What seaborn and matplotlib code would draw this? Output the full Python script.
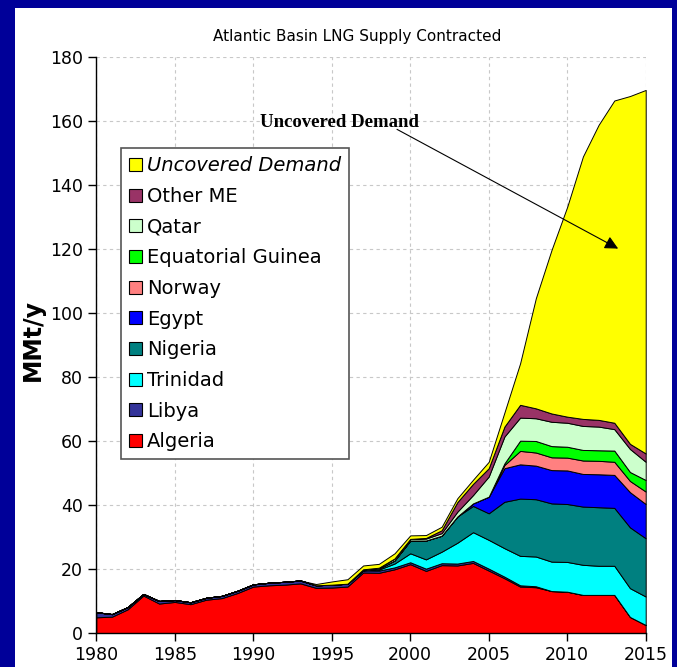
import numpy as np
import pandas as pd
import matplotlib
matplotlib.use("Agg")
import matplotlib.pyplot as plt
from matplotlib.patches import Rectangle, Patch
import seaborn as sns

years = list(range(1980, 2016))

algeria = [5.0, 5.2, 7.5, 11.8, 9.3, 9.8, 9.1, 10.5, 11.0, 12.6,
           14.6, 15.0, 15.2, 15.6, 14.2, 14.3, 14.6, 19.0, 18.9, 20.0,
           21.6, 19.5, 21.3, 21.2, 22.0, 19.6, 17.2, 14.6, 14.4, 13.2,
           13.0, 12.0, 12.0, 12.0, 5.1, 2.6]
libya = [1.6, 0.8, 0.7, 0.5, 0.8, 0.6, 0.6, 0.6, 0.7, 0.7,
         0.7, 0.8, 0.9, 0.9, 0.8, 0.9, 0.9, 0.7, 0.7, 0.6,
         0.6, 0.7, 0.6, 0.6, 0.6, 0.6, 0.5, 0.4, 0.3, 0.0,
         0.0, 0.0, 0.0, 0.0, 0.0, 0.0]
trinidad = [0.0] * 18 + [0.3, 1.2, 2.8, 2.9, 3.6, 6.5, 9.0, 9.0, 8.9, 9.2,
                         9.3, 9.2, 9.3, 9.4, 9.1, 9.1, 9.0, 8.9]
nigeria = [0.0] * 18 + [0.3, 1.0, 4.0, 5.9, 5.0, 8.2, 8.2, 8.3, 14.5, 17.9,
                        17.9, 18.2, 18.1, 18.2, 18.3, 18.1, 19.0, 18.2]
egypt = [0.0] * 24 + [0.8, 5.2, 10.5, 10.7, 10.5, 10.4, 10.5, 10.2, 10.3,
                      10.3, 11.0, 10.7]
norway = [0.0] * 26 + [1.0, 4.2, 4.1, 4.0, 4.0, 4.2, 4.2, 4.1, 3.5, 3.9]
eq_guinea = [0.0] * 26 + [0.5, 3.2, 3.6, 3.5, 3.4, 3.3, 3.3, 3.5, 2.8, 3.6]
qatar = [0.0] * 17 + [0.3, 0.3, 0.6, 0.5, 0.6, 0.8, 1.5, 2.6, 6.3, 8.4,
                      7.2, 7.1, 7.6, 7.5, 7.5, 7.4, 6.7, 7.2, 5.7]
other_me = [0.0] * 21 + [0.2, 0.9, 3.0, 3.5, 2.6, 3.1, 4.0, 3.1, 2.6, 1.9,
                         2.2, 2.1, 2.0, 1.6, 2.6]
uncovered = [0.0] * 14 + [0.4, 1.0, 1.4, 1.2, 1.2, 1.6, 1.1, 0.9, 1.1, 1.2,
                          1.3, 2.0, 4.4, 13.0, 34.4, 51.1, 65.6, 82.0, 92.2,
                          100.7, 108.7, 113.6]

series_names = ["Algeria", "Libya", "Trinidad", "Nigeria", "Egypt", "Norway",
                "Equatorial Guinea", "Qatar", "Other ME", "Uncovered Demand"]
series_colors = ["#FF0000", "#333399", "#00FFFF", "#008080", "#0000FF",
                 "#FF8080", "#00FF00", "#CCFFCC", "#993366", "#FFFF00"]

df = pd.DataFrame(
    dict(zip(series_names, [algeria, libya, trinidad, nigeria, egypt, norway,
                            eq_guinea, qatar, other_me, uncovered])),
    index=years,
)

sns.set_theme(style="white")
plt.rcParams["font.family"] = ["DejaVu Sans"]
plt.rcParams["text.color"] = "black"
palette = sns.color_palette(series_colors)

W, H = 677, 667
fig = plt.figure(figsize=(W / 100, H / 100), dpi=100)
fig.patch.set_facecolor("#000099")
fig.patches.append(Rectangle((15 / W, 0), (672 - 15) / W, (H - 8) / H,
                             transform=fig.transFigure, facecolor="white",
                             edgecolor="none", zorder=-5))

ax = fig.add_axes([96.3 / W, 1 - 633.3 / H, 549.4 / W, 576 / H])
ax.set_facecolor("none")

ax.stackplot(df.index, *[df[c].values for c in series_names],
             colors=palette, edgecolor="black", linewidth=0.7, zorder=2)

ax.set_xlim(1980, 2015)
ax.set_ylim(0, 180)
ax.set_xticks(range(1980, 2016, 5))
ax.set_yticks(range(0, 181, 20))
ax.tick_params(axis="both", labelsize=12.5, colors="black", direction="out",
               length=6, width=1, left=True, bottom=True)
ax.grid(True, color="#C8C8C8", linestyle=(0, (3, 3)), linewidth=0.8)
ax.set_axisbelow(True)
for side in ["top", "right"]:
    ax.spines[side].set_visible(False)
for side in ["left", "bottom"]:
    ax.spines[side].set_color("black")
    ax.spines[side].set_linewidth(1.0)

ax.set_ylabel("MMt/y", fontsize=17, fontweight="bold", color="black")
ax.yaxis.set_label_coords(-0.093, 0.51)

fig.text(357 / W, 1 - 37 / H, "Atlantic Basin LNG Supply Contracted",
         ha="center", va="center", fontsize=11, color="black")

handles = [Patch(facecolor=c, edgecolor="black", linewidth=0.8)
           for c in reversed(series_colors)]
leg = ax.legend(handles, list(reversed(series_names)), loc="upper left",
                bbox_to_anchor=(0.045, 0.8425), borderaxespad=0,
                fontsize=14, frameon=True, fancybox=False, framealpha=1,
                edgecolor="#555555", handlelength=0.65, handleheight=0.65,
                handletextpad=0.25, labelspacing=0.6, borderpad=0.42,
                labelcolor="black")
leg.get_frame().set_linewidth(1.2)
leg.get_texts()[0].set_fontstyle("italic")
leg.set_zorder(5)

ax.annotate("", xy=(2013.4, 119.8), xytext=(1999.0, 157.9),
            arrowprops=dict(arrowstyle="-|>", color="black", lw=0.8,
                            mutation_scale=20), zorder=6)
ax.text(1995.5, 159.5, "Uncovered Demand", ha="center", va="center",
        fontsize=13.5, fontweight="bold", family=["Liberation Serif"],
        color="black", zorder=6)

fig.savefig("out.png", dpi=100, facecolor=fig.get_facecolor())
